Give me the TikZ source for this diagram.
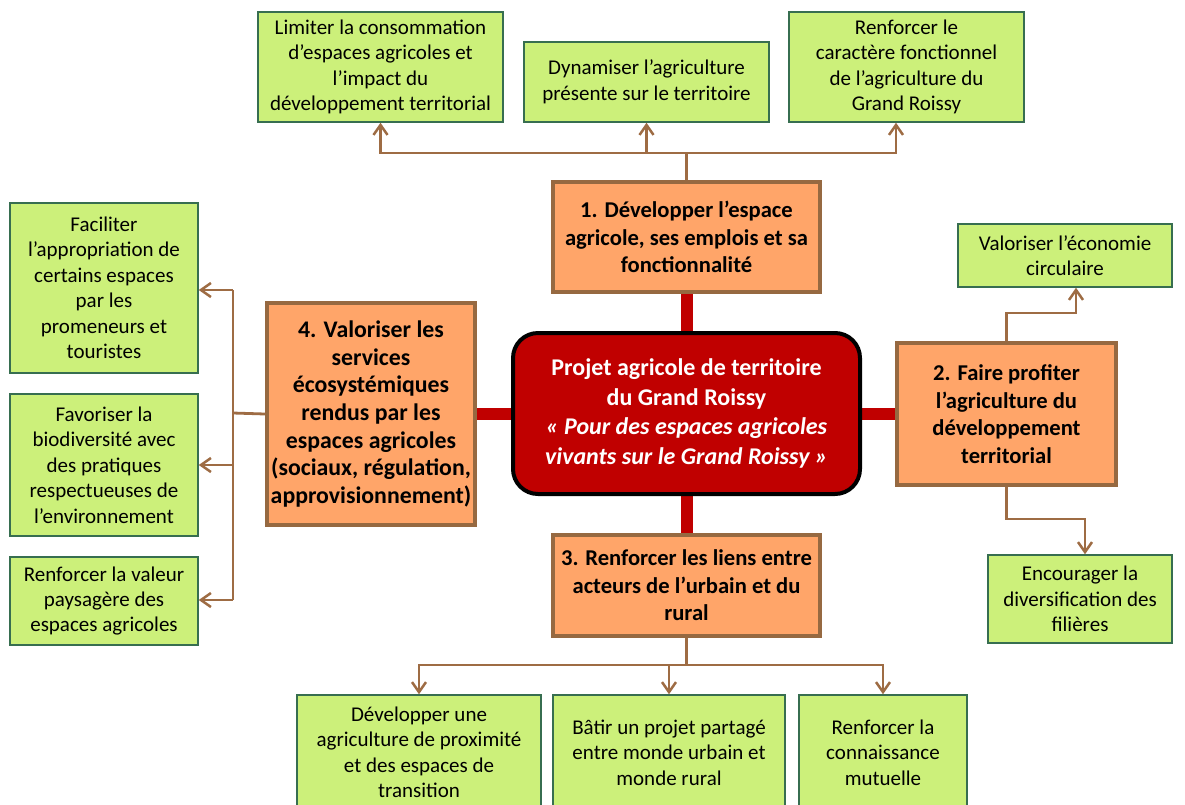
\documentclass[tikz,border=0pt]{standalone}
\usepackage{fontspec}
\setmainfont{Carlito}
\usetikzlibrary{arrows.meta,backgrounds}
\definecolor{gfill}{RGB}{204,240,122}
\definecolor{gdraw}{RGB}{55,110,80}
\definecolor{ofill}{RGB}{255,165,105}
\definecolor{odraw}{RGB}{150,105,65}
\definecolor{connc}{RGB}{158,108,68}
\definecolor{rfill}{RGB}{192,0,0}
\begin{document}
\begin{tikzpicture}[x=1pt,y=-1pt,
  gbox/.style={draw=gdraw, fill=gfill, line width=1.5pt, align=center, inner sep=0pt,
    font=\fontsize{21}{25.5}\selectfont},
  obox/.style={draw=odraw, fill=ofill, line width=4pt, align=center, inner sep=0pt,
    font=\fontsize{22.6}{27.5}\selectfont\bfseries},
  cbox/.style={draw=black, fill=rfill, line width=4pt, rounded corners=25pt, align=center,
    inner sep=0pt, text=white, font=\fontsize{24}{29.5}\selectfont\bfseries},
  connline/.style={draw=connc, line width=2.8pt},
  arr/.style={connline, -{Straight Barb[length=10pt,width=14pt,line width=2.5pt]}},
  redbar/.style={draw=rfill, line width=12pt}]
\useasboundingbox (0,0) rectangle (1185,804);
\clip (0,0) rectangle (1185,804);

% top green boxes
\node[gbox, minimum width=245pt, minimum height=110pt] (g1) at (380.5,67)
  {Limiter la consommation\\d’espaces agricoles et\\l’impact du\\développement territorial};
\node[gbox, minimum width=245pt, minimum height=80pt] (g2) at (646.5,82)
  {Dynamiser l’agriculture\\présente sur le territoire};
\node[gbox, minimum width=235pt, minimum height=110pt] (g3) at (906.5,67)
  {Renforcer le\\caractère fonctionnel\\de l’agriculture du\\Grand Roissy};

% orange boxes
\node[obox, minimum width=267pt, minimum height=110pt] (o1) at (686.5,237)
  {1. Développer l’espace\\agricole, ses emplois et sa\\fonctionnalité};
\node[obox, minimum width=219pt, minimum height=142pt] (o2) at (1006.5,414)
  {2. Faire profiter\\l’agriculture du\\développement\\territorial};
\node[obox, minimum width=267pt, minimum height=101pt] (o3) at (686.5,585.5)
  {3. Renforcer les liens entre\\acteurs de l’urbain et du\\rural};
\node[obox, minimum width=208pt, minimum height=222pt, font=\fontsize{23.8}{27.7}\selectfont\bfseries] (o4) at (371,414)
  {4. Valoriser les\\services\\écosystémiques\\rendus par les\\espaces agricoles\\(sociaux, régulation,\\approvisionnement)};

% center
\node[cbox, minimum width=347pt, minimum height=161pt] (c) at (686.5,413.5)
  {Projet agricole de territoire\\du Grand Roissy\\\textit{« Pour des espaces agricoles}\\\textit{vivants sur le Grand Roissy »}};

% right green boxes
\node[gbox, minimum width=214pt, minimum height=63pt] (r1) at (1065,255.5)
  {Valoriser l’économie\\circulaire};
\node[gbox, minimum width=184pt, minimum height=88pt] (r2) at (1080,599)
  {Encourager la\\diversification des\\filières};

% left green boxes
\node[gbox, minimum width=188pt, minimum height=170pt] (l1) at (104,288)
  {Faciliter\\l’appropriation de\\certains espaces\\par les\\promeneurs et\\touristes};
\node[gbox, minimum width=188pt, minimum height=142pt] (l2) at (104,465)
  {Favoriser la\\biodiversité avec\\des pratiques\\respectueuses de\\l’environnement};
\node[gbox, minimum width=188pt, minimum height=88pt] (l3) at (104,601)
  {Renforcer la valeur\\paysagère des\\espaces agricoles};

% bottom green boxes
\node[gbox, minimum width=244pt, minimum height=115pt] (b1) at (419,752.5)
  {Développer une\\agriculture de proximité\\et des espaces de\\transition};
\node[gbox, minimum width=232pt, minimum height=115pt] (b2) at (669,752.5)
  {Bâtir un projet partagé\\entre monde urbain et\\monde rural};
\node[gbox, minimum width=168pt, minimum height=115pt] (b3) at (883,752.5)
  {Renforcer la\\connaissance\\mutuelle};

% red bars behind
\begin{scope}[on background layer]
\fill[white] (0,0) rectangle (1185,804);
\draw[redbar] (o1.south) -- (c.north);
\draw[redbar] (c.south) -- (o3.north);
\draw[redbar] (o4.east |- c.west) -- (c.west);
\draw[redbar] (c.east) -- (c.east -| o2.west);
\end{scope}

% connectors top
\coordinate (t0) at (686.5,153);
\coordinate (t3) at (896,153);
\draw[connline] (o1.north) -- (t0);
\draw[arr] (t0) -| (g1.south);
\draw[arr] (t0) -| (g2.south);
\draw[arr] (t0) -- (t3) -- (t3 |- g3.south);

% connectors bottom
\coordinate (b0) at (686.5,665);
\draw[connline] (o3.south) -- (b0);
\draw[arr] (b0) -| (b1.north);
\draw[arr] (b0) -| (b2.north);
\draw[arr] (b0) -| (b3.north);

% connectors left
\coordinate (lv) at (233,413);
\coordinate (lt) at (233,290);
\coordinate (lb) at (233,600);
\draw[connline] (o4.west) -- (lv);
\draw[connline] (lt) -- (lb);
\draw[arr] (lt) -- (l1.east |- lt);
\draw[arr] (lv |- l2.east) -- (l2.east);
\draw[arr] (lb) -- (l3.east |- lb);

% connectors right
\coordinate (ra) at (1076,313);
\coordinate (rb) at (1085,519);
\draw[arr] (o2.north) |- (ra) -- (ra |- r1.south);
\draw[arr] (o2.south) |- (rb) -- (rb |- r2.north);
\end{tikzpicture}
\end{document}
